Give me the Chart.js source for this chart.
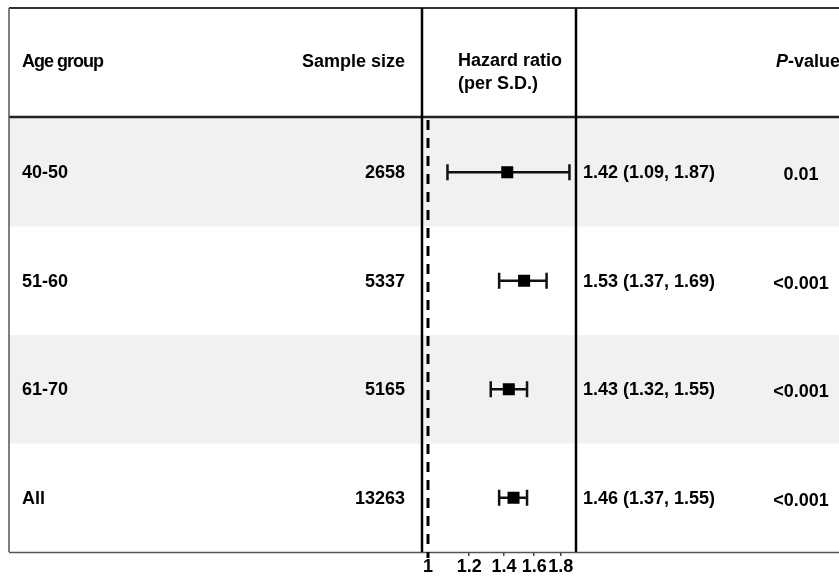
<!DOCTYPE html>
<html>
<head>
<meta charset="utf-8">
<script src="https://cdn.jsdelivr.net/npm/chart.js@4/dist/chart.umd.min.js"></script>
<style>
  html, body { margin: 0; padding: 0; background: #ffffff; }
  #wrap { width: 839px; height: 576px; }
</style>
</head>
<body>
<div id="wrap"><canvas id="forest" width="839" height="576"></canvas></div>
<script>
// Forest plot: hazard ratio per S.D. by age group
const ageGroups   = ['40-50', '51-60', '61-70', 'All'];
const sampleSizes = ['2658', '5337', '5165', '13263'];
const hazardRatios = [1.42, 1.53, 1.43, 1.46];
const ciLower      = [1.09, 1.37, 1.32, 1.37];
const ciUpper      = [1.87, 1.69, 1.55, 1.55];
const pValues      = ['0.01', '<0.001', '<0.001', '<0.001'];
const tickValues   = [1, 1.2, 1.4, 1.6, 1.8];
const tickLabels   = ['1', '1.2', '1.4', '1.6', '1.8'];
const referenceHR  = 1;

const FONT = '"Liberation Sans", Arial, Helvetica, sans-serif';
const TEXT = '#000000';
const W = 839, H = 576;
const TOP = 8, HEADER_BOTTOM = 117, LEFT = 9;

const hrLabels = hazardRatios.map((v, i) =>
  `${v.toFixed(2)} (${ciLower[i].toFixed(2)}, ${ciUpper[i].toFixed(2)})`);

const points = hazardRatios.map((v, i) => ({ x: v, y: i }));

// Table frame, row shading, reference line and confidence intervals
const tablePlugin = {
  id: 'forestTable',
  beforeDraw(chart) {
    const { ctx, scales: { y } } = chart;
    ctx.save();
    // shaded rows
    ageGroups.forEach((g, i) => {
      if (i % 2 === 0) {
        const t = y.getPixelForValue(i - 0.5);
        const b = y.getPixelForValue(i + 0.5);
        ctx.fillStyle = '#f0f1f0';
        ctx.fillRect(LEFT, t, W - LEFT, b - t);
      }
    });
    ctx.restore();
  },
  beforeDatasetsDraw(chart) {
    const { ctx, scales: { x, y }, chartArea } = chart;
    ctx.save();
    // outer frame
    ctx.strokeStyle = '#333333';
    ctx.lineWidth = 2;
    ctx.beginPath();
    ctx.moveTo(LEFT, TOP); ctx.lineTo(W, TOP);
    ctx.stroke();
    ctx.lineWidth = 2.5;
    ctx.strokeStyle = '#222222';
    ctx.beginPath();
    ctx.moveTo(LEFT, HEADER_BOTTOM); ctx.lineTo(W, HEADER_BOTTOM);
    ctx.stroke();
    ctx.strokeStyle = '#555555';
    ctx.lineWidth = 1.5;
    ctx.beginPath();
    ctx.moveTo(LEFT, TOP); ctx.lineTo(LEFT, chartArea.bottom);
    ctx.moveTo(LEFT, chartArea.bottom + 0.5); ctx.lineTo(W, chartArea.bottom + 0.5);
    ctx.stroke();
    // column borders of the plot panel
    ctx.strokeStyle = '#000000';
    ctx.lineWidth = 2.5;
    ctx.beginPath();
    ctx.moveTo(chartArea.left, TOP); ctx.lineTo(chartArea.left, chartArea.bottom);
    ctx.moveTo(chartArea.right, TOP); ctx.lineTo(chartArea.right, chartArea.bottom);
    ctx.stroke();
    // reference line at HR = 1
    const xr = x.getPixelForValue(referenceHR);
    ctx.setLineDash([10, 8]);
    ctx.lineWidth = 3;
    ctx.beginPath();
    ctx.moveTo(xr, chartArea.top + 2); ctx.lineTo(xr, chartArea.bottom + 6);
    ctx.stroke();
    ctx.setLineDash([]);
    // confidence intervals with end caps
    ctx.lineWidth = 2.5;
    ctx.strokeStyle = '#111111';
    hazardRatios.forEach((v, i) => {
      const yc = y.getPixelForValue(i);
      const x0 = x.getPixelForValue(ciLower[i]);
      const x1 = x.getPixelForValue(ciUpper[i]);
      ctx.beginPath();
      ctx.moveTo(x0, yc); ctx.lineTo(x1, yc);
      ctx.moveTo(x0, yc - 8); ctx.lineTo(x0, yc + 8);
      ctx.moveTo(x1, yc - 8); ctx.lineTo(x1, yc + 8);
      ctx.stroke();
    });
    ctx.restore();
  },
  afterDraw(chart) {
    const { ctx, scales: { y } } = chart;
    ctx.save();
    ctx.fillStyle = TEXT;
    ctx.textBaseline = 'middle';
    ctx.font = `bold 18px ${FONT}`;
    // header
    const hy = 62;
    ctx.textAlign = 'left';
    ctx.letterSpacing = '-1px';
    ctx.fillText('Age group', 22, hy);
    ctx.letterSpacing = '0px';
    ctx.textAlign = 'right';
    ctx.fillText('Sample size', 405, hy);
    ctx.textAlign = 'left';
    ctx.fillText('Hazard ratio', 458, 61);
    ctx.fillText('(per S.D.)', 458, 84);
    ctx.font = `italic bold 18px ${FONT}`;
    ctx.fillText('P', 776, hy);
    const pw = ctx.measureText('P').width;
    ctx.font = `bold 18px ${FONT}`;
    ctx.fillText('-value', 776 + pw, hy);
    // rows
    ageGroups.forEach((g, i) => {
      const yc = y.getPixelForValue(i) + 1;
      ctx.textAlign = 'left';
      ctx.fillText(g, 22, yc);
      ctx.textAlign = 'right';
      ctx.fillText(sampleSizes[i], 405, yc);
      ctx.textAlign = 'left';
      ctx.fillText(hrLabels[i], 583, yc);
      ctx.textAlign = 'center';
      ctx.fillText(pValues[i], 801, yc + 2);
    });
    ctx.restore();
  }
};

new Chart(document.getElementById('forest'), {
  type: 'scatter',
  data: {
    datasets: [{
      data: points,
      pointStyle: 'rect',
      pointRadius: 8.5,
      pointHoverRadius: 8.5,
      backgroundColor: '#000000',
      borderWidth: 0
    }]
  },
  options: {
    responsive: false,
    animation: false,
    events: [],
    layout: { padding: { left: 422, right: W - 576, top: HEADER_BOTTOM + 1, bottom: 0 } },
    plugins: { legend: { display: false }, tooltip: { enabled: false } },
    scales: {
      x: {
        type: 'logarithmic',
        min: 0.9738,
        max: 1.925,
        afterBuildTicks(scale) { scale.ticks = tickValues.map(v => ({ value: v })); },
        afterFit(scale) { scale.height = 24; },
        border: { display: false },
        grid: { drawOnChartArea: false, drawTicks: true, tickLength: 4, color: '#444444', lineWidth: 1.5 },
        ticks: {
          autoSkip: false,
          maxRotation: 0,
          padding: 0,
          color: TEXT,
          font: { family: FONT, size: 18, weight: 'bold' },
          callback(value) {
            const k = tickValues.indexOf(value);
            return k >= 0 ? tickLabels[k] : '';
          }
        }
      },
      y: {
        type: 'linear',
        min: -0.5,
        max: 3.5,
        reverse: true,
        display: false
      }
    }
  },
  plugins: [tablePlugin]
});
</script>
</body>
</html>
